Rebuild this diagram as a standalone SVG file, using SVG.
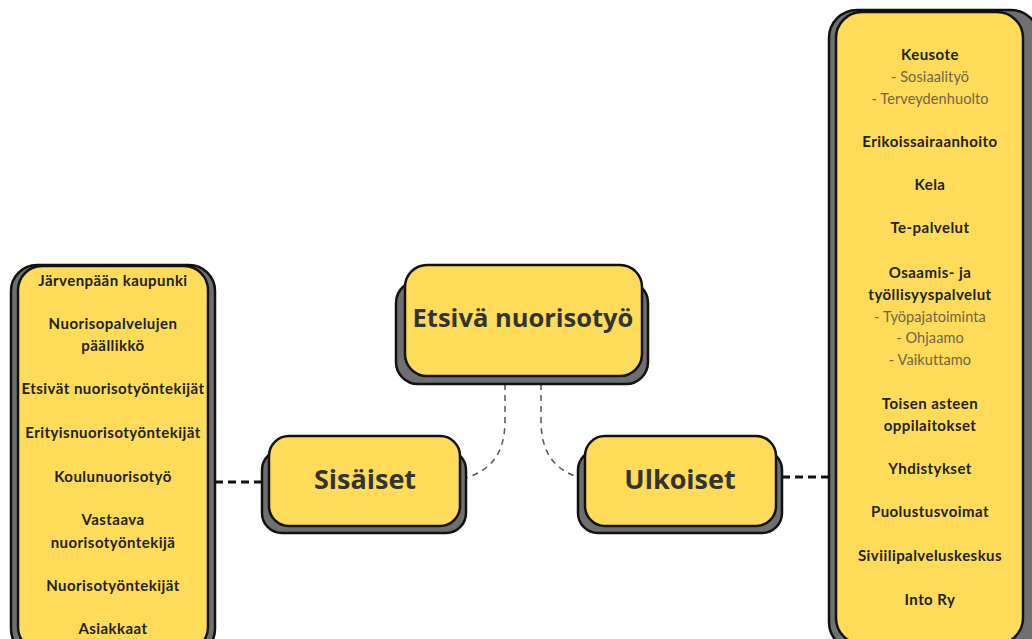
<svg xmlns="http://www.w3.org/2000/svg" width="1032" height="639" viewBox="0 0 1032 639">
<style>
.sh{fill:#6f6f6f;stroke:#111;stroke-width:2.5}
.bx{fill:#fedc59;stroke:#111;stroke-width:2.5}
.title{font-family:"Open Sans",sans-serif;font-weight:700;fill:#333;text-anchor:middle}
.it{font-family:Lato,"Liberation Sans",sans-serif;font-weight:700;font-size:15px;letter-spacing:0.45px;fill:#222;text-anchor:middle}
.sub{font-family:Lato,"Liberation Sans",sans-serif;font-weight:400;font-size:14.5px;letter-spacing:0.1px;fill:#6e6546;text-anchor:middle}
.thick{fill:none;stroke:#111;stroke-width:3;stroke-dasharray:8 5}
.thin{fill:none;stroke:#555;stroke-width:1.5;stroke-dasharray:6 5}
</style>
<rect width="1032" height="639" fill="#fff"/>
<g id="connectors">
<path class="thick" d="M215 482 H262"/>
<path class="thick" d="M782 477 H830"/>
<path class="thin" d="M505 384 V420 C505 455 490 470 466 478"/>
<path class="thin" d="M541 384 V420 C541 455 556 470 580 478"/>
</g>
<g id="sisaiset-list">
<rect class="sh" x="11" y="265" width="204" height="390" rx="26"/>
<rect class="bx" x="18" y="266" width="190" height="385" rx="24"/>
<text class="it" x="113" y="286">Järvenpään kaupunki</text>
<text class="it" x="113" y="329">Nuorisopalvelujen</text>
<text class="it" x="113" y="351">päällikkö</text>
<text class="it" x="113" y="394">Etsivät nuorisotyöntekijät</text>
<text class="it" x="113" y="438">Erityisnuorisotyöntekijät</text>
<text class="it" x="113" y="482">Koulunuorisotyö</text>
<text class="it" x="113" y="525">Vastaava</text>
<text class="it" x="113" y="548">nuorisotyöntekijä</text>
<text class="it" x="113" y="591">Nuorisotyöntekijät</text>
<text class="it" x="113" y="634">Asiakkaat</text>
</g>
<g id="ulkoiset-list">
<rect class="sh" x="829" y="10" width="210" height="640" rx="28"/>
<rect class="bx" x="836" y="12" width="187" height="632" rx="26"/>
<text class="it" x="930" y="60">Keusote</text>
<text class="sub" x="930" y="82">- Sosiaalityö</text>
<text class="sub" x="930" y="104">- Terveydenhuolto</text>
<text class="it" x="930" y="147">Erikoissairaanhoito</text>
<text class="it" x="930" y="190">Kela</text>
<text class="it" x="930" y="233">Te-palvelut</text>
<text class="it" x="930" y="278">Osaamis- ja</text>
<text class="it" x="930" y="300">työllisyyspalvelut</text>
<text class="sub" x="930" y="322">- Työpajatoiminta</text>
<text class="sub" x="930" y="343">- Ohjaamo</text>
<text class="sub" x="930" y="365">- Vaikuttamo</text>
<text class="it" x="930" y="409">Toisen asteen</text>
<text class="it" x="930" y="431">oppilaitokset</text>
<text class="it" x="930" y="474">Yhdistykset</text>
<text class="it" x="930" y="517">Puolustusvoimat</text>
<text class="it" x="930" y="561">Siviilipalveluskeskus</text>
<text class="it" x="930" y="605">Into Ry</text>
</g>
<g id="etsiva">
<rect class="sh" x="396" y="281" width="252" height="103" rx="22"/>
<rect class="bx" x="405" y="265" width="237" height="111" rx="22"/>
<text class="title" x="523" y="327" font-size="25.5">Etsivä nuorisotyö</text>
</g>
<g id="sisaiset">
<rect class="sh" x="262" y="450" width="204" height="83" rx="20"/>
<rect class="bx" x="269" y="436" width="191" height="90" rx="20"/>
<text class="title" x="365" y="489" font-size="27">Sisäiset</text>
</g>
<g id="ulkoiset">
<rect class="sh" x="578" y="450" width="204" height="83" rx="20"/>
<rect class="bx" x="585" y="436" width="191" height="90" rx="20"/>
<text class="title" x="680" y="489" font-size="27">Ulkoiset</text>
</g>
</svg>
